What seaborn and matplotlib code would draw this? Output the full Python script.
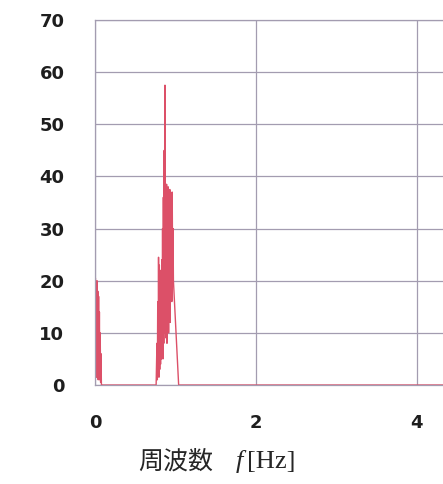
import numpy as np
import matplotlib.pyplot as plt
import pandas as pd
import seaborn as sb

# spectrum (frequency in Hz, amplitude)
freq = [0.0, 0.005, 0.01, 0.015, 0.02, 0.025, 0.03, 0.035, 0.04, 0.045, 0.05,
        0.055, 0.06, 0.065, 0.07, 0.075, 0.08, 0.09, 0.3, 0.6, 0.76,
        0.77, 0.775, 0.78, 0.785, 0.79, 0.795, 0.80, 0.805, 0.81, 0.815,
        0.82, 0.825, 0.83, 0.835, 0.84, 0.845, 0.85, 0.855, 0.86, 0.865,
        0.87, 0.875, 0.88, 0.885, 0.89, 0.895, 0.90, 0.905, 0.91, 0.915,
        0.92, 0.925, 0.93, 0.935, 0.94, 0.945, 0.95, 0.955, 0.96, 0.965,
        0.97, 0.975, 1.04, 1.5, 2.5, 3.5, 4.4]
amp = [0.0, 20.5, 2.0, 19.5, 1.5, 20.0, 3.0, 18.0, 1.0, 17.0, 2.0,
       14.0, 1.0, 10.0, 0.5, 6.0, 0.0, 0.0, 0.0, 0.0, 0.0,
       8.0, 1.0, 16.0, 2.0, 24.5, 1.5, 23.0, 3.0, 22.0, 4.0,
       21.0, 5.0, 24.0, 6.0, 30.0, 5.0, 36.0, 8.0, 45.0, 10.0,
       57.5, 12.0, 38.0, 9.0, 38.5, 8.0, 37.0, 12.0, 38.0, 10.0,
       36.0, 14.0, 37.5, 12.0, 37.0, 20.0, 36.0, 16.0, 37.0, 22.0,
       30.0, 20.0, 0.0, 0.0, 0.0, 0.0, 0.0]

yticks = [0, 10, 20, 30, 40, 50, 60, 70]
xticks = [0, 2, 4]

df = pd.DataFrame({"f": freq, "a": amp})

sb.set_style("white")
plt.rcParams['font.family'] = ['DejaVu Sans']

fig = plt.figure(figsize=(4.43, 4.84), dpi=100)
ax = fig.add_axes([0.2144, 0.2045, 0.79, 0.7542])

sb.lineplot(data=df, x="f", y="a", ax=ax, sort=False, estimator=None,
            color="#dc5068", linewidth=1.0)

ax.set_xlim(0, 4.35)
ax.set_ylim(0, 70)
ax.set_xticks(xticks)
ax.set_yticks(yticks)
ax.set_xticklabels([str(t) for t in xticks], fontsize=13, fontweight="bold",
                   color="#1e1e1e")
ax.set_yticklabels([str(t) for t in yticks], fontsize=13, fontweight="bold",
                   color="#1e1e1e")
ax.tick_params(axis="x", length=0, pad=21)
ax.tick_params(axis="y", length=0, pad=22)
ax.grid(True, color="#a39cb0", linewidth=0.9)
for s in ["top", "left", "bottom"]:
    ax.spines[s].set_color("#a39cb0")
    ax.spines[s].set_linewidth(0.9)
ax.spines["right"].set_visible(False)
ax.set_xlabel("")
ax.set_ylabel("")

fig.text(0.482, 0.046, "周波数", fontsize=18, ha="right", va="center",
         family=["Noto Sans CJK JP", "DejaVu Sans"])
fig.text(0.532, 0.046, "f", fontsize=19, ha="left", va="center",
         family="Liberation Serif", style="italic")
fig.text(0.558, 0.046, "[Hz]", fontsize=19, ha="left", va="center",
         family="Liberation Serif")

fig.savefig("out.png", dpi=100)
